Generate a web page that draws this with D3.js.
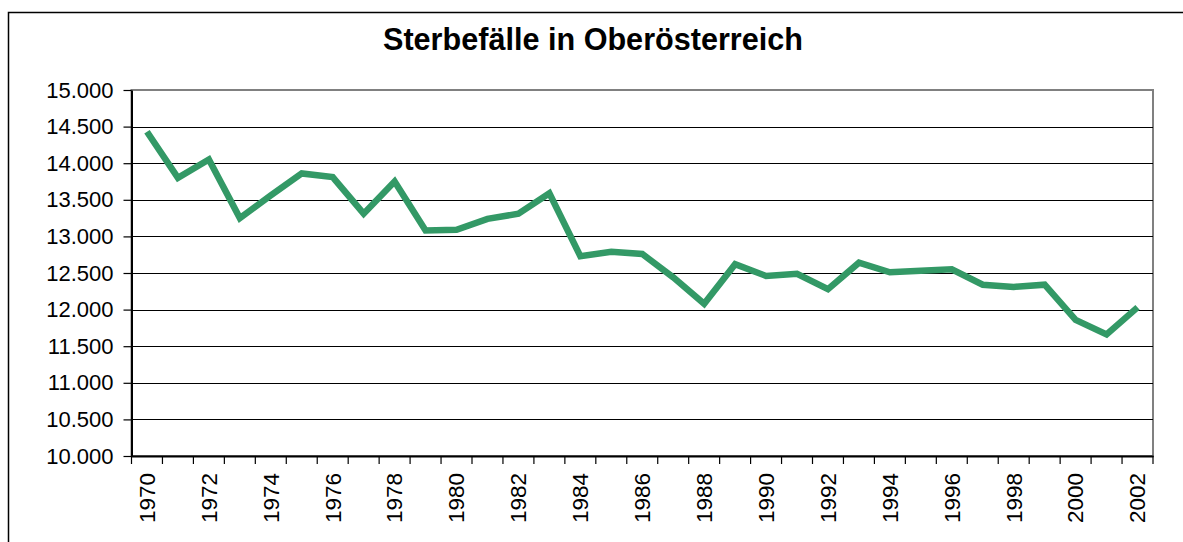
<!DOCTYPE html>
<html>
<head>
<meta charset="utf-8">
<script src="https://cdn.jsdelivr.net/npm/d3@7"></script>
<style>
  body { margin: 0; background: #fff; }
  text { font-family: "Liberation Sans", Arial, sans-serif; }
</style>
</head>
<body>
<div id="viz-container"></div>
<script>
// data
let years = d3.range(1970, 2003);
let deaths = [14430, 13800, 14050, 13250, 13560, 13860, 13810, 13310, 13750, 13080,
              13090, 13240, 13310, 13590, 12730, 12790, 12760, 12440, 12080, 12620,
              12460, 12490, 12280, 12640, 12510, 12530, 12550, 12340, 12310, 12340,
              11860, 11660, 12030];
let yTicks = d3.range(10000, 15001, 500);
let labelYears = years.filter(y => y % 2 == 0);

let viz = d3.select("#viz-container")
  .append("svg")
  .attr("width", 1183)
  .attr("height", 542);

// outer chart frame
viz.append("rect")
  .attr("x", 8.5).attr("y", 12.5)
  .attr("width", 1190).attr("height", 560)
  .attr("fill", "white")
  .attr("stroke", "black")
  .attr("stroke-width", 1.5);

viz.append("text")
  .attr("x", 593).attr("y", 50)
  .attr("text-anchor", "middle")
  .style("font-size", "30.6px")
  .style("font-weight", "bold")
  .text("Sterbefälle in Oberösterreich");

let pLeft = 131.5, pRight = 1153, pTop = 90, pBottom = 456;

let x = d3.scaleBand().domain(years).range([pLeft, pRight]).padding(0);
let y = d3.scaleLinear().domain([10000, 15000]).range([pBottom, pTop]);

let de = d3.formatLocale({decimal: ",", thousands: ".", grouping: [3], currency: ["", " €"]});
let fmt = de.format(",d");

// plot area border
viz.append("rect")
  .attr("x", pLeft).attr("y", pTop)
  .attr("width", pRight - pLeft).attr("height", pBottom - pTop)
  .attr("fill", "none")
  .attr("stroke", "#808080")
  .attr("stroke-width", 2);

// gridlines
viz.append("g")
  .selectAll("line")
  .data(yTicks.slice(1, -1))
  .enter().append("line")
  .attr("x1", pLeft).attr("x2", pRight)
  .attr("y1", d => Math.round(y(d)) + 0.5)
  .attr("y2", d => Math.round(y(d)) + 0.5)
  .attr("stroke", "black")
  .attr("stroke-width", 1);

// y axis
let yAxis = viz.append("g")
  .attr("transform", `translate(${pLeft},0)`)
  .call(d3.axisLeft(y).tickValues(yTicks).tickFormat(fmt).tickSize(8).tickPadding(10).tickSizeOuter(0));
yAxis.select(".domain").attr("stroke", "black").attr("stroke-width", 2);
yAxis.selectAll(".tick line").attr("stroke", "black").attr("stroke-width", 1.2);
yAxis.selectAll("text").style("font-size", "22px").attr("fill", "black")
  .attr("font-family", null);

// x axis (labels at centers, ticks at category boundaries)
let xAxis = viz.append("g")
  .attr("transform", `translate(0,${pBottom})`)
  .call(d3.axisBottom(x).tickValues(labelYears).tickSize(0).tickSizeOuter(0));
xAxis.select(".domain").attr("stroke", "black").attr("stroke-width", 2);
xAxis.selectAll("text")
  .style("font-size", "22.5px")
  .attr("fill", "black")
  .attr("font-family", null)
  .attr("text-anchor", "end")
  .attr("transform", "rotate(-90)")
  .attr("x", -17)
  .attr("y", 0)
  .attr("dy", "0.35em");

let bounds = years.map(d => x(d)).concat([pRight]);
xAxis.selectAll(".bound")
  .data(bounds)
  .enter().append("line")
  .attr("class", "bound")
  .attr("x1", d => d).attr("x2", d => d)
  .attr("y1", 0).attr("y2", 8)
  .attr("stroke", "black")
  .attr("stroke-width", 1.2);

// the series line
let line = d3.line()
  .x((d, i) => x(years[i]) + x.bandwidth() / 2)
  .y(d => y(d));

viz.append("path")
  .datum(deaths)
  .attr("d", line)
  .attr("fill", "none")
  .attr("stroke", "#339966")
  .attr("stroke-width", 6.5)
  .attr("stroke-linejoin", "miter");
</script>
</body>
</html>
